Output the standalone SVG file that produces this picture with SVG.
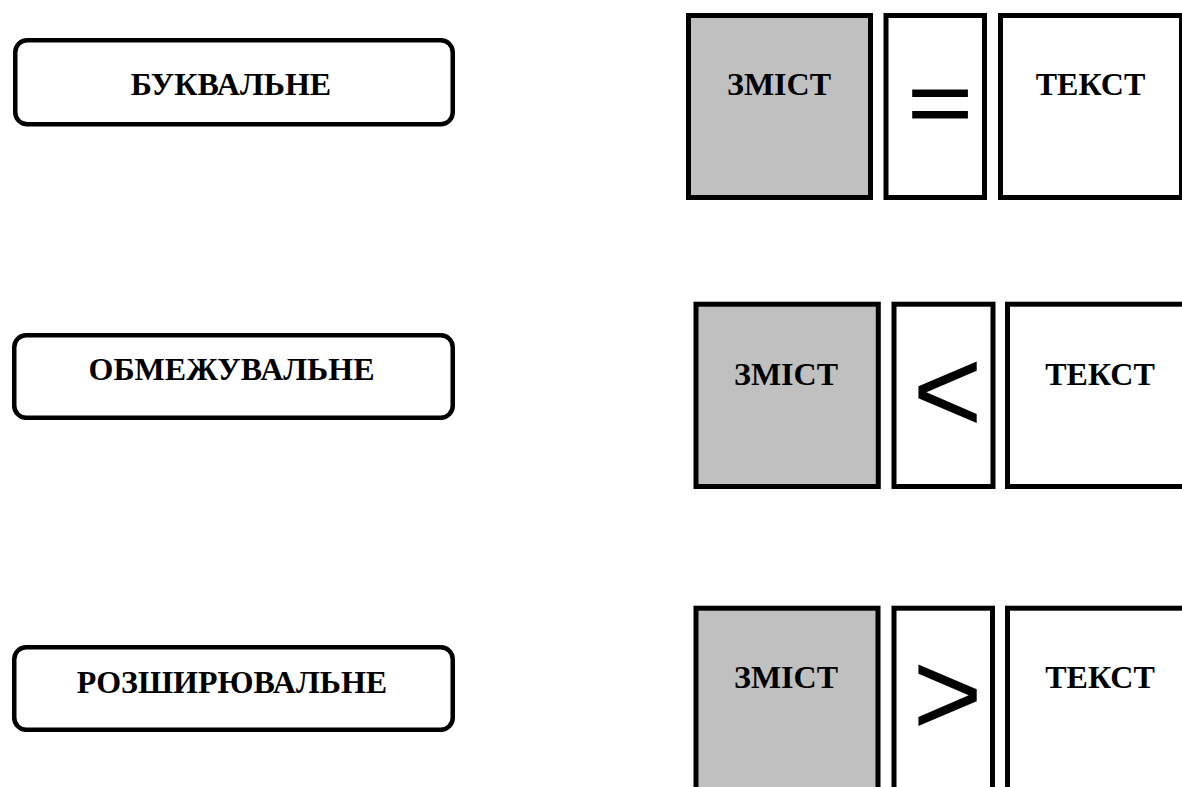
<svg xmlns="http://www.w3.org/2000/svg" width="1182" height="787" viewBox="0 0 1182 787">
<style>
.bg{fill:#ffffff}
.label{fill:#ffffff;stroke:#000000;stroke-width:4.5}
.content{fill:#c0c0c0;stroke:#000000;stroke-width:5}
.box{fill:#ffffff;stroke:#000000;stroke-width:5}
.t{font-family:"Liberation Serif","Times New Roman",serif;font-weight:bold;font-size:32px;fill:#000000;text-anchor:middle}
.sym{font-family:"Liberation Sans",Arial,sans-serif;font-size:120px;fill:#000000;text-anchor:middle}
</style>
<rect class="bg" x="0" y="0" width="1182" height="787"/>
<g id="type-literal">
<rect class="label" x="15.25" y="40.25" width="437.5" height="84" rx="12"/>
<text class="t" x="231" y="95">БУКВАЛЬНЕ</text>
</g>
<g id="type-restrictive">
<rect class="label" x="14.25" y="335.25" width="438.5" height="82.5" rx="12"/>
<text class="t" x="231.5" y="380">ОБМЕЖУВАЛЬНЕ</text>
</g>
<g id="type-expansive">
<rect class="label" x="14.25" y="647.25" width="438.5" height="82.5" rx="12"/>
<text class="t" x="232" y="693">РОЗШИРЮВАЛЬНЕ</text>
</g>
<g id="row1-content">
<rect class="content" x="688.5" y="15.5" width="182" height="182"/>
<text class="t" x="779" y="95">ЗМІСТ</text>
</g>
<g id="row1-sign">
<rect class="box" x="886" y="15.5" width="98.5" height="182"/>
<text class="sym" x="0" y="41" transform="translate(940,103) scale(0.93,0.73)" stroke="#000000" stroke-width="1.6">=</text>
</g>
<g id="row1-text">
<rect class="box" x="1000.5" y="15.5" width="181" height="182"/>
<text class="t" x="1090.5" y="95">ТЕКСТ</text>
</g>
<g id="row2-content">
<rect class="content" x="696" y="304.2" width="182.3" height="182.3"/>
<text class="t" x="786" y="385">ЗМІСТ</text>
</g>
<g id="row2-sign">
<rect class="box" x="894" y="304.2" width="99" height="182.3"/>
<text class="sym" x="947.5" y="432">&lt;</text>
</g>
<g id="row2-text">
<rect class="box" x="1007.5" y="304.2" width="184" height="182.3"/>
<text class="t" x="1100" y="385">ТЕКСТ</text>
</g>
<g id="row3-content">
<rect class="content" x="696" y="608.2" width="182" height="190"/>
<text class="t" x="786" y="688">ЗМІСТ</text>
</g>
<g id="row3-sign">
<rect class="box" x="894" y="608.2" width="98.5" height="190"/>
<text class="sym" x="947.5" y="735">&gt;</text>
</g>
<g id="row3-text">
<rect class="box" x="1007.5" y="608.2" width="184" height="190"/>
<text class="t" x="1100" y="688">ТЕКСТ</text>
</g>
<g id="connectors"/>
</svg>
